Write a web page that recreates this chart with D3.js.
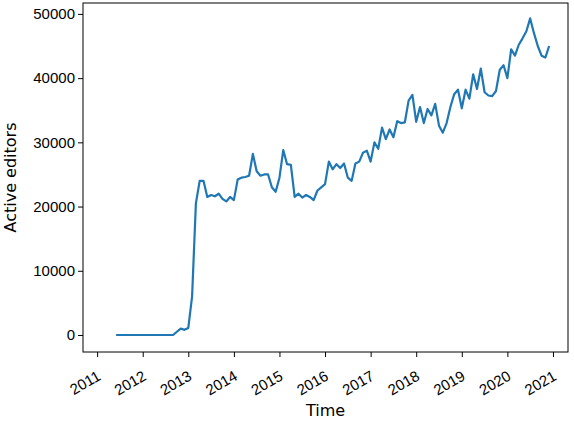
<!DOCTYPE html>
<html><head><meta charset="utf-8">
<script src="https://cdn.jsdelivr.net/npm/d3@7"></script>
<style>body{margin:0;background:#fff}svg{font-family:"DejaVu Sans",sans-serif}</style>
</head><body><svg id="c" width="574" height="422"></svg>
<script>
const startYear = 2011, startMonth = 5; // June 2011 (0-based month)
const values = [
0,0,0,0,0,0,0,
0,0,0,0,0,0,0,0,0,500,1000,800,
1100,6000,20500,24000,24000,21500,21800,21600,22000,21200,20800,21500,
21000,24200,24500,24600,24800,28200,25500,24800,25000,25000,23000,22300,
24500,28800,26600,26500,21500,22000,21400,21800,21500,21000,22500,23000,
23500,27000,25800,26600,26000,26700,24500,24000,26700,27000,28400,28700,
27000,30000,29000,32300,30500,32000,30800,33300,33000,33100,36500,37400,
33200,35500,33000,35200,34200,36000,32600,31500,33000,35500,37500,38200,
35300,38200,36800,40600,38300,41500,37800,37300,37200,38000,41300,42000,
40000,44500,43500,45200,46200,47300,49300,47000,45000,43500,43200,45000
];
const yearTicks = [2011,2012,2013,2014,2015,2016,2017,2018,2019,2020,2021];
const yTicks = [0,10000,20000,30000,40000,50000];
const data = values.map((v,i)=>({t:startYear+(startMonth+i)/12, v}));

const L=83,R=568,T=3,B=352;
const svg=d3.select("#c");
const x=d3.scaleLinear().domain([2010.69,2021.33]).range([L,R]);
const y=d3.scaleLinear().domain([-2650,51700]).range([B,T]);

svg.append("path").datum(data)
 .attr("d",d3.line().x(d=>x(d.t)).y(d=>y(d.v)))
 .attr("fill","none").attr("stroke","#1f77b4").attr("stroke-width",2.2).attr("stroke-linejoin","round");

svg.append("rect").attr("x",L).attr("y",T).attr("width",R-L).attr("height",B-T)
 .attr("fill","none").attr("stroke","#000").attr("stroke-width",1);

const xa=svg.append("g").attr("transform",`translate(0,${B})`)
 .call(d3.axisBottom(x).tickValues(yearTicks).tickFormat(d3.format("d")).tickSize(5).tickSizeOuter(0));
xa.select(".domain").remove();
xa.selectAll("text").attr("font-size",15).attr("fill","#000").attr("text-anchor","end")
 .attr("dy",null).attr("y",0).attr("transform","translate(4,27) rotate(-30)");
const ya=svg.append("g").attr("transform",`translate(${L},0)`)
 .call(d3.axisLeft(y).tickValues(yTicks).tickFormat(d3.format("d")).tickSize(5).tickSizeOuter(0));
ya.select(".domain").remove();
ya.selectAll("text").attr("font-size",15).attr("fill","#000").attr("x",-8);
svg.selectAll(".tick line").attr("stroke","#000");

svg.append("text").attr("x",(L+R)/2).attr("y",416).attr("text-anchor","middle").attr("font-size",16).text("Time");
svg.append("text").attr("transform",`translate(16,${(T+B)/2}) rotate(-90)`).attr("text-anchor","middle").attr("font-size",16).text("Active editors");
</script></body></html>
